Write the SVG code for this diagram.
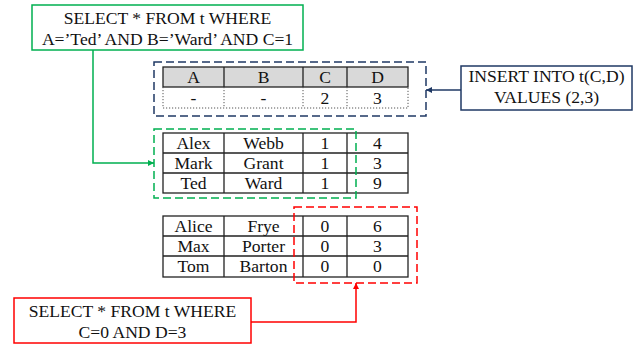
<svg xmlns="http://www.w3.org/2000/svg" width="637" height="345" viewBox="0 0 637 345">
  <style>
    text { font-family: "Liberation Serif", "Times New Roman", serif; font-size: 17.6px; fill: #111; text-anchor: middle; }
    .grid { stroke: #222; stroke-width: 1.3; fill: none; }
    .dot { stroke: #555; stroke-width: 1; stroke-dasharray: 1.2 1.8; fill: none; }
    .hdr { fill: #d9d9d9; }
    .green { stroke: #00b050; stroke-width: 1.5; fill: none; }
    .red { stroke: #ff0000; stroke-width: 1.5; fill: none; }
    .navy { stroke: #1f3864; stroke-width: 1.5; fill: none; }
    .dash { stroke-dasharray: 8 4; }
    .box { fill: #fff; }
  </style>
  <defs>
    <marker id="ahGreen" viewBox="0 0 10 10" refX="10" refY="5" markerWidth="6" markerHeight="6" orient="auto" markerUnits="userSpaceOnUse">
      <path d="M0,0 L10,5 L0,10 z" fill="#00b050"/>
    </marker>
    <marker id="ahRed" viewBox="0 0 10 10" refX="10" refY="5" markerWidth="6" markerHeight="6" orient="auto" markerUnits="userSpaceOnUse">
      <path d="M0,0 L10,5 L0,10 z" fill="#ff0000"/>
    </marker>
    <marker id="ahNavy" viewBox="0 0 10 10" refX="10" refY="5" markerWidth="6" markerHeight="6" orient="auto" markerUnits="userSpaceOnUse">
      <path d="M0,0 L10,5 L0,10 z" fill="#1f3864"/>
    </marker>
  </defs>

  <!-- table with header and inserted row -->
  <g id="table-insert">
    <rect class="hdr" x="163" y="67" width="245" height="20"/>
    <rect class="grid" x="163" y="67" width="245" height="20"/>
    <path class="grid" d="M224,67 V87 M303,67 V87 M347,67 V87"/>
    <path class="dot" d="M163,87 V108 H408 V87 M224,87 V108 M303,87 V108 M347,87 V108"/>
    <text x="193.5" y="83">A</text>
    <text x="263.5" y="83">B</text>
    <text x="325" y="83">C</text>
    <text x="377.5" y="83">D</text>
    <text x="193.5" y="104">-</text>
    <text x="263.5" y="104">-</text>
    <text x="325" y="104">2</text>
    <text x="377.5" y="104">3</text>
  </g>

  <!-- rows with C=1 -->
  <g id="table-c1">
    <rect class="grid" x="163" y="133" width="245" height="60"/>
    <path class="grid" d="M163,153 H408 M163,173 H408 M224,133 V193 M303,133 V193 M347,133 V193"/>
    <text x="193.5" y="149">Alex</text>
    <text x="263.5" y="149">Webb</text>
    <text x="325" y="149">1</text>
    <text x="377.5" y="149">4</text>
    <text x="193.5" y="169">Mark</text>
    <text x="263.5" y="169">Grant</text>
    <text x="325" y="169">1</text>
    <text x="377.5" y="169">3</text>
    <text x="193.5" y="189">Ted</text>
    <text x="263.5" y="189">Ward</text>
    <text x="325" y="189">1</text>
    <text x="377.5" y="189">9</text>
  </g>

  <!-- rows with C=0 -->
  <g id="table-c0">
    <rect class="grid" x="163" y="216" width="245" height="61"/>
    <path class="grid" d="M163,236 H408 M163,256 H408 M224,216 V277 M303,216 V277 M347,216 V277"/>
    <text x="193.5" y="232">Alice</text>
    <text x="263.5" y="232">Frye</text>
    <text x="325" y="232">0</text>
    <text x="377.5" y="232">6</text>
    <text x="193.5" y="252">Max</text>
    <text x="263.5" y="252">Porter</text>
    <text x="325" y="252">0</text>
    <text x="377.5" y="252">3</text>
    <text x="193.5" y="272">Tom</text>
    <text x="263.5" y="272">Barton</text>
    <text x="325" y="272">0</text>
    <text x="377.5" y="272">0</text>
  </g>

  <!-- dashed selection frames -->
  <g id="frame-insert"><rect class="navy dash" x="154" y="62" width="272" height="54"/></g>
  <g id="frame-c1"><rect class="green dash" x="154" y="129" width="202" height="69"/></g>
  <g id="frame-c0"><rect class="red dash" x="294" y="207" width="123" height="76"/></g>

  <!-- query boxes -->
  <g id="query-select-c1">
    <rect class="green box" x="32" y="5" width="271" height="45"/>
    <text x="167.5" y="24">SELECT * FROM t WHERE</text>
    <text x="167.5" y="45">A=’Ted’ AND B=’Ward’ AND C=1</text>
  </g>
  <g id="query-insert">
    <rect class="navy box" x="461" y="66" width="171" height="44"/>
    <text x="546.5" y="82">INSERT INTO t(C,D)</text>
    <text x="546.5" y="103">VALUES (2,3)</text>
  </g>
  <g id="query-select-c0">
    <rect class="red box" x="14" y="298" width="237" height="45"/>
    <text x="132.5" y="317">SELECT * FROM t WHERE</text>
    <text x="132.5" y="338">C=0 AND D=3</text>
  </g>

  <!-- connectors -->
  <g id="connectors">
    <path class="green" d="M93,50 V163 H154" marker-end="url(#ahGreen)"/>
    <path class="navy" d="M461,90 H426" marker-end="url(#ahNavy)"/>
    <path class="red" d="M251,322 H356 V283" marker-end="url(#ahRed)"/>
  </g>
</svg>
